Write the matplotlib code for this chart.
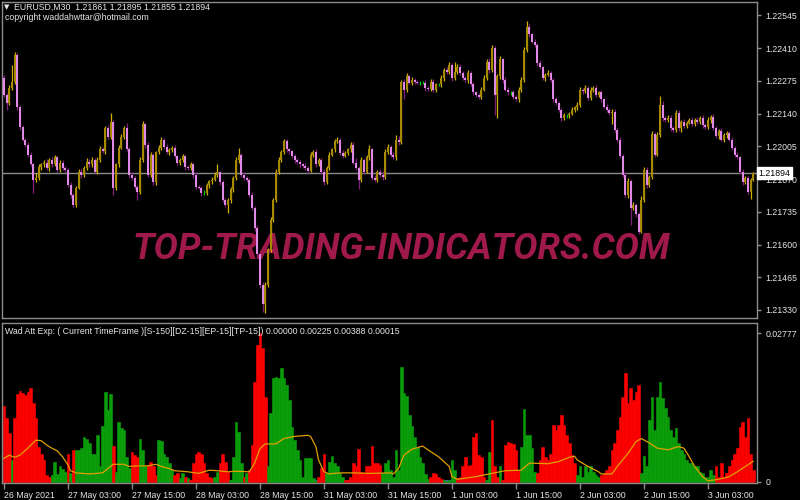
import matplotlib
matplotlib.use("Agg")
import matplotlib.pyplot as plt
import matplotlib.transforms as mtransforms
import numpy as np

# EURUSD M30, prices stored as points above 1.21000 (1 point = 0.00001)
BASE = 1.21
first_open = 1288
closes = [
    1218, 1185, 1247, 1272, 1383, 1165, 1086, 1033, 1012, 971,
    930, 868, 876, 921, 930, 938, 917, 950, 930, 959,
    909, 938, 917, 909, 847, 806, 765, 835, 901, 888,
    917, 942, 930, 950, 901, 950, 992, 985, 1082, 1045,
    1107, 835, 930, 1000, 1045, 1082, 992, 888, 876, 839,
    818, 950, 1095, 1012, 888, 971, 856, 980, 1000, 1033,
    1004, 983, 990, 1000, 963, 938, 950, 963, 921, 917,
    930, 888, 839, 835, 814, 814, 847, 860, 868, 888,
    897, 856, 785, 765, 785, 827, 876, 950, 971, 888,
    876, 868, 806, 752, 670, 559, 435, 353, 435, 579,
    703, 785, 901, 950, 983, 1025, 992, 985, 963, 950,
    942, 930, 925, 917, 905, 971, 983, 930, 950, 901,
    856, 917, 971, 992, 1025, 1033, 979, 967, 979, 992,
    1012, 938, 917, 868, 950, 901, 959, 992, 876, 868,
    901, 888, 880, 983, 1004, 971, 959, 1033, 1021, 1272,
    1239, 1293, 1268, 1280, 1272, 1268, 1268, 1268, 1247, 1243,
    1272, 1239, 1260, 1260, 1288, 1321, 1313, 1342, 1288, 1313,
    1334, 1309, 1288, 1280, 1309, 1260, 1227, 1218, 1210, 1239,
    1288, 1354, 1321, 1412, 1218, 1293, 1363, 1280, 1239, 1227,
    1227, 1210, 1198, 1239, 1280, 1404, 1495, 1466, 1437, 1424,
    1350, 1330, 1288, 1301, 1309, 1280, 1198, 1185, 1156, 1123,
    1132, 1132, 1140, 1156, 1165, 1177, 1239, 1231, 1247, 1206,
    1239, 1247, 1218, 1227, 1198, 1169, 1156, 1144, 1148, 1074,
    1033, 963, 888, 806, 860, 752, 765, 724, 653, 785,
    909, 847, 880, 1054, 971, 1053, 1177, 1123, 1115, 1123,
    1082, 1074, 1144, 1082, 1107, 1090, 1103, 1115, 1099, 1115,
    1107, 1123, 1094, 1086, 1115, 1127, 1082, 1049, 1070, 1033,
    1053, 1061, 1033, 1000, 971, 959, 901, 856, 876, 818,
    868, 894,
]
# wick length above / below the candle body, in points
wick_hi = [
    10, 8, 12, 70, 12, 8, 10, 6, 8, 12, 10, 8, 20, 12, 8, 10, 16, 8, 10, 12,
    8, 12, 10, 6, 8, 10, 6, 8, 12, 10, 8, 14, 10, 12, 8, 10, 16, 12, 8, 12,
    37, 8, 6, 10, 12, 8, 20, 10, 12, 8, 6, 10, 16, 8, 10, 12, 8, 6, 10, 12,
    8, 10, 8, 6, 10, 8, 6, 10, 8, 6, 12, 8, 10, 6, 8, 10, 6, 8, 10, 12,
    33, 8, 10, 6, 8, 10, 8, 12, 29, 8, 10, 6, 8, 10, 8, 12, 8, 10, 12, 8,
    10, 8, 12, 10, 8, 12, 10, 8, 6, 10, 8, 6, 8, 10, 8, 12, 8, 10, 6, 8,
    10, 8, 12, 8, 10, 12, 8, 10, 6, 8, 10, 12, 20, 8, 10, 6, 12, 20, 8, 10,
    8, 12, 16, 10, 12, 8, 10, 20, 16, 8, 12, 14, 8, 10, 6, 8, 6, 8, 10, 8,
    10, 12, 8, 6, 10, 8, 12, 10, 8, 41, 12, 10, 8, 6, 12, 8, 10, 6, 8, 12,
    10, 12, 14, 12, 8, 10, 14, 8, 10, 12, 8, 10, 8, 10, 12, 10, 25, 16, 8, 10,
    8, 10, 6, 8, 10, 6, 8, 10, 6, 8, 10, 6, 8, 10, 8, 12, 10, 8, 12, 8,
    10, 8, 12, 8, 10, 8, 10, 8, 12, 10, 8, 10, 12, 10, 16, 12, 10, 8, 10, 16,
    12, 10, 8, 16, 10, 12, 37, 16, 8, 10, 12, 8, 10, 12, 8, 10, 6, 8, 10, 8,
    10, 8, 12, 8, 10, 8, 10, 8, 6, 10, 8, 6, 8, 10, 8, 12, 8, 10, 8, 6,
    8, 6,
]
wick_lo = [
    8, 29, 10, 8, 12, 10, 12, 8, 10, 12, 8, 54, 10, 8, 12, 10, 8, 12, 10, 8,
    12, 10, 8, 12, 10, 14, 12, 10, 8, 12, 10, 8, 12, 10, 8, 12, 10, 8, 12, 10,
    8, 29, 10, 12, 8, 10, 8, 12, 10, 12, 33, 10, 8, 12, 10, 8, 12, 10, 8, 12,
    10, 8, 12, 10, 8, 12, 10, 8, 12, 10, 8, 12, 10, 8, 12, 10, 8, 12, 10, 8,
    10, 12, 8, 10, 33, 12, 10, 8, 12, 10, 8, 10, 12, 10, 14, 12, 16, 30, 35, 10,
    8, 10, 8, 12, 10, 8, 12, 10, 8, 12, 10, 14, 8, 10, 12, 8, 10, 12, 8, 10,
    12, 8, 10, 8, 12, 8, 10, 12, 8, 10, 12, 8, 10, 41, 12, 10, 8, 12, 10, 12,
    10, 8, 12, 8, 10, 12, 8, 10, 12, 8, 41, 10, 8, 10, 12, 8, 10, 8, 12, 10,
    8, 10, 12, 8, 10, 12, 8, 10, 12, 8, 10, 12, 8, 10, 12, 8, 10, 8, 12, 10,
    8, 10, 12, 10, 82, 95, 10, 12, 8, 10, 12, 10, 8, 12, 10, 8, 10, 12, 8, 10,
    12, 8, 10, 12, 8, 10, 12, 8, 10, 12, 8, 10, 12, 8, 10, 12, 8, 10, 8, 12,
    10, 12, 8, 10, 12, 8, 10, 12, 45, 10, 12, 8, 10, 12, 14, 70, 10, 12, 10, 4,
    10, 12, 8, 10, 12, 8, 10, 12, 8, 10, 12, 8, 10, 12, 16, 8, 10, 8, 12, 10,
    8, 10, 12, 8, 10, 12, 8, 10, 12, 8, 10, 12, 8, 10, 12, 8, 10, 12, 8, 8,
    29, 6,
]

# Waddah Attar Explosion, values in units of 0.0001
# trend > 0 -> green (up), trend < 0 -> red (down)
trend = [
    -142, -119, -91, 41, -119, -164, -170, -165, -162, -168,
    -175, -147, -119, -66, -53, -41, -13, -9, 13, 37,
    15, 29, 24, 19, -53, 16, -60, 60, 60, 63,
    84, 81, 73, 53, 53, 88, 29, 104, 168, 134,
    164, -67, 19, 112, 100, 97, 47, 26, -56, -50,
    -47, 81, 60, 29, -32, -37, -29, -13, 78, 77,
    53, 47, 35, 22, -13, -16, 7, 16, -10, 7,
    -4, -35, -53, -56, -53, -35, -16, -10, -7, 10,
    19, -35, -53, -37, -19, 4, 47, 112, 94, 35,
    -10, 16, -22, -69, -187, -255, -277.7, -250, -159, 29,
    128, 193, 196, 193, 213, 193, 181, 153, 102, 78,
    60, 41, 10, 44, 44, 44, 7, 2, -10, -26,
    -53, 16, 38, 48, 35, 30, 16, 10, -4, -4,
    -9, -36, -29, -61, -19, -16, -29, -29, -67, -35,
    -35, -32, 16, 35, 41, 22, 10, 60, 22, 215,
    165, 160, 125, 104, 83, 66, 46, 35, 15, 5,
    -10, -16, -15, -10, -5, 4, 2, 4, 41, 22,
    -7, -10, -29, -47, -29, -32, -84, -91, -50, -47,
    -10, 4, 56, -116, -29, -9, 29, -4, -69, -75,
    -72, -71, -60, -22, 66, 136, 88, 88, 63, 19,
    -16, -41, -66, -47, -41, -53, -106, -97, -106, -125,
    -106, -88, -72, -50, -35, 13, 30, 10, 29, 19,
    29, 19, 13, 10, -13, -16, -22, -30, -60, -72,
    -97, -122, -159, -203, -147, -175, -153, -168, -181, 16,
    48, 29, 116, 159, 97, 159, 187, 156, 137, 121,
    97, 84, 100, 72, 60, 53, 41, 35, 35, 29,
    29, 19, 16, 10, 10, 22, 13, -29, -10, -36,
    -10, -16, -29, -41, -53, -63, -103, -112, -84, -120,
    -53, -22.5,
]
expl_idx = [0, 2, 4, 6, 9, 12, 14, 16, 18, 20, 22, 24, 25, 27, 32, 37, 39, 41, 45, 47,
            50, 54, 57, 59, 62, 64, 69, 73, 77, 80, 84, 87, 92, 94, 96, 98, 102, 105, 109, 114,
            115, 117, 118, 120, 122, 126, 131, 137, 145, 146, 148, 150, 153, 157, 159, 163, 167, 168, 170, 173,
            177, 180, 184, 188, 194, 197, 199, 204, 208, 212, 214, 215, 219, 223, 224, 228, 230, 234, 237, 239,
            242, 245, 249, 253, 255, 257, 259, 262, 264, 268, 272, 275, 279, 281]
expl_val = [44, 50, 46, 50, 63, 78, 77, 69, 63, 58, 47, 32, 21, 17, 15, 17, 25, 33, 33, 29,
            30, 30, 33, 29, 25, 21, 19, 16, 22, 21, 19, 20, 19, 35, 62, 71, 71, 81, 85, 87,
            85, 66, 41, 19, 15, 17, 17, 16, 17, 15, 25, 50, 61, 67, 60, 47, 29, 10, 5, 7,
            10, 13, 17, 21, 22, 35, 35, 34, 38, 46, 48, 41, 29, 19, 15, 15, 29, 53, 75, 81,
            73, 63, 60, 66, 63, 47, 29, 10, 2, 5, 10, 19, 32, 38.8]
dead_zone = 1.5

price_levels = [1.22545, 1.22410, 1.22275, 1.22140, 1.22005, 1.21870, 1.21735, 1.21600, 1.21465, 1.21330]
last_price = 1.21894
time_idx = [0, 24, 48, 72, 96, 120, 144, 168, 192, 216, 240, 264]
time_labels = ["26 May 2021", "27 May 03:00", "27 May 15:00", "28 May 03:00", "28 May 15:00",
               "31 May 03:00", "31 May 15:00", "1 Jun 03:00", "1 Jun 15:00", "2 Jun 03:00",
               "2 Jun 15:00", "3 Jun 03:00"]

assert len(closes) == len(wick_hi) == len(wick_lo) == len(trend) == 282
assert len(expl_idx) == len(expl_val)

plt.rcParams['font.family'] = ['Liberation Sans', 'DejaVu Sans']
FS = 6.3
GRID = '#8c8c8c'
TXT = '#e6e6e6'

fig = plt.figure(figsize=(8, 5), dpi=100, facecolor='black')
ax1 = fig.add_axes([2 / 800, 182 / 500, 755 / 800, 316 / 500], facecolor='black')
ax2 = fig.add_axes([2 / 800, 17 / 500, 755 / 800, 160 / 500], facecolor='black')

idx = np.arange(len(closes))
c = BASE + np.array(closes) / 1e5
o = BASE + np.array([first_open] + closes[:-1]) / 1e5
hi = np.maximum(o, c) + np.array(wick_hi) / 1e5
lo = np.minimum(o, c) - np.array(wick_lo) / 1e5

body_cols, wick_cols = [], []
for oo, cc in zip(o, c):
    if cc > oo:
        body_cols.append('#a88a00'); wick_cols.append('#d2b000')
    elif cc < oo:
        body_cols.append('#e088e6'); wick_cols.append('#82207f')
    else:
        body_cols.append('#00c800'); wick_cols.append('#00c800')

# watermark sits under the candles
ax1.text(401 / 800, 1 - 249 / 500, 'TOP-TRADING-INDICATORS.COM', transform=fig.transFigure,
         ha='center', va='center', fontsize=26, fontweight='bold', style='italic',
         family='Roboto', color='#a0194b', zorder=1)

ax1.axhline(last_price, color=GRID, lw=1, zorder=2)
ax1.vlines(idx, lo, hi, colors=wick_cols, linewidth=0.9, zorder=3)
ax1.bar(idx, np.abs(c - o), bottom=np.minimum(o, c), width=0.75, color=body_cols,
        linewidth=0, zorder=4)

ax1.set_xlim(-0.7, 282.4)
ax1.set_ylim(1.21297, 1.22600)
ax1.tick_params(axis='x', bottom=False, labelbottom=False)
ax1.yaxis.tick_right()
ax1.set_yticks(price_levels)
ax1.set_yticklabels([f'{v:.5f}' for v in price_levels])
ax1.tick_params(axis='y', colors=GRID, labelcolor=TXT, length=3, width=1, labelsize=FS, pad=3)

trans1 = mtransforms.blended_transform_factory(ax1.transAxes, ax1.transData)
ax1.text(1.002, last_price, f'{last_price:.5f}', transform=trans1, ha='left', va='center',
         fontsize=FS, color='black', zorder=10, clip_on=False,
         bbox=dict(boxstyle='square,pad=0.15', fc='white', ec='white'))

# indicator panel
tr = np.array(trend) * 1e-4
bar_cols = ['#0a9f0a' if t > 0 else '#ff0000' for t in trend]
ax2.bar(idx, np.abs(tr), width=1.0, color=bar_cols, edgecolor=bar_cols, linewidth=0.4, zorder=2)
ax2.plot(expl_idx, np.array(expl_val) * 1e-4, color='#e0a000', lw=0.9, zorder=3)
ax2.plot(idx, np.full(len(idx), dead_zone * 1e-4), color='#5a64c8', lw=1.3, zorder=1)

ax2.set_xlim(-0.7, 282.4)
ax2.set_ylim(-0.00019, 0.02964)
ax2.yaxis.tick_right()
ax2.set_yticks([0, 0.02777])
ax2.set_yticklabels(['0', '0.02777'])
ax2.tick_params(axis='y', colors=GRID, labelcolor=TXT, length=3, width=1, labelsize=FS, pad=3)
ax2.set_xticks(time_idx)
ax2.set_xticklabels(time_labels, ha='left')
ax2.tick_params(axis='x', colors=GRID, labelcolor=TXT, length=4, width=1, labelsize=FS, pad=2)

for ax in (ax1, ax2):
    for s in ax.spines.values():
        s.set_color(GRID)
        s.set_linewidth(1)

fig.text(7 / 800, 1 - 7 / 500, '▼', family='DejaVu Sans', fontsize=5, color=TXT, ha='center', va='center')
fig.text(14 / 800, 1 - 7 / 500, 'EURUSD,M30  1.21861 1.21895 1.21855 1.21894',
         fontsize=FS, color=TXT, ha='left', va='center')
fig.text(5 / 800, 1 - 17 / 500, 'copyright waddahwttar@hotmail.com',
         fontsize=FS, color=TXT, ha='left', va='center')
fig.text(5 / 800, 1 - 331 / 500,
         'Wad Att Exp: ( Current TimeFrame )[S-150][DZ-15][EP-15][TP-15]) 0.00000 0.00225 0.00388 0.00015',
         fontsize=FS, color=TXT, ha='left', va='center')

fig.savefig('out.png', dpi=100, facecolor='black')
